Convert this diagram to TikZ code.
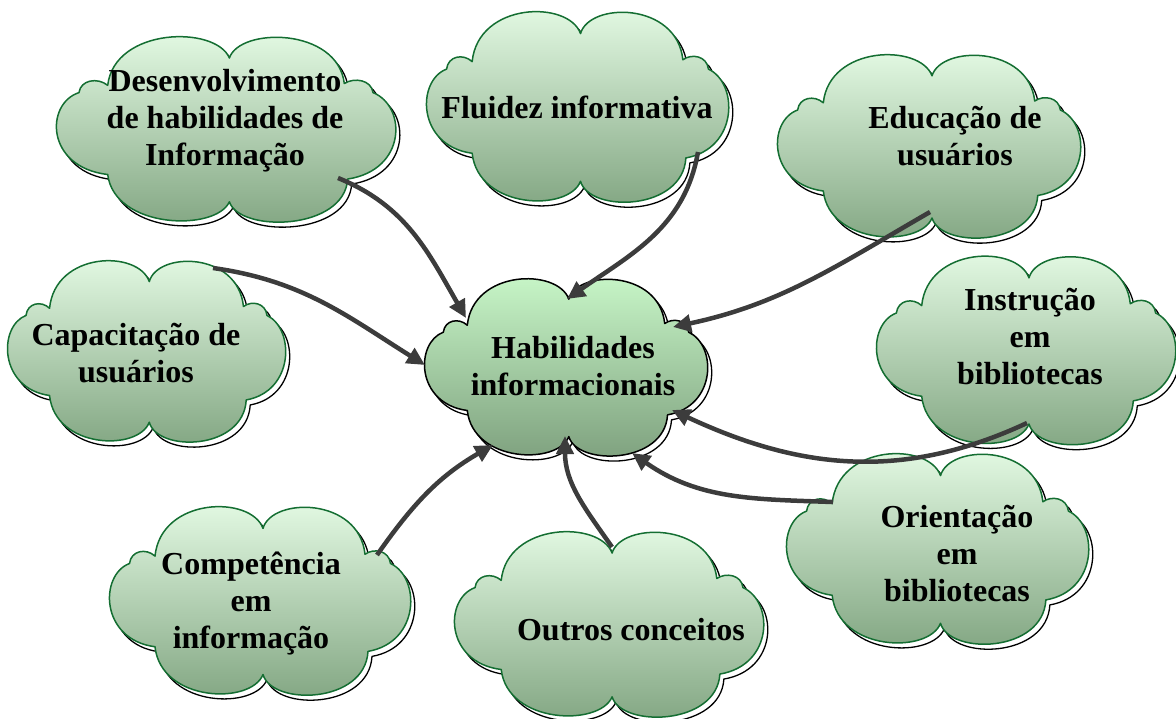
\documentclass[tikz,border=0pt]{standalone}
\usepackage{fontspec}
\setmainfont{Liberation Serif}
\usetikzlibrary{calc,arrows.meta}
\definecolor{cgreen}{RGB}{20,110,50}
\definecolor{ctop}{RGB}{230,252,230}
\definecolor{cmid}{RGB}{205,236,205}
\definecolor{cbot}{RGB}{128,164,128}
\definecolor{ctopz}{RGB}{202,249,202}
\definecolor{cmidz}{RGB}{178,224,178}
\definecolor{cbotz}{RGB}{124,158,124}
\definecolor{agray}{RGB}{60,60,60}
\newcommand{\cloudoutline}{(0.02,0.78)
 .. controls (0.08,1.12) and (0.66,1.12) .. (0.70,0.50)
 .. controls (0.76,0.57) and (0.86,0.54) .. (0.87,0.40)
 .. controls (1.07,0.25) and (1.07,-0.45) .. (0.72,-0.55)
 .. controls (0.70,-1.12) and (0.08,-1.14) .. (0.02,-0.80)
 .. controls (-0.06,-1.13) and (-0.66,-1.10) .. (-0.70,-0.50)
 .. controls (-1.07,-0.42) and (-1.07,0.28) .. (-0.87,0.40)
 .. controls (-0.86,0.54) and (-0.76,0.57) .. (-0.70,0.48)
 .. controls (-0.66,1.12) and (-0.06,1.14) .. (0.02,0.78) -- cycle}
% #1 style, #2 cx, #3 cy, #4 half width, #5 half height
\newcommand{\drawcloud}[5][cloudbox]{%
  \path[cloudshadow, shift={({#2+4},{#3-5})}, xscale=#4, yscale=#5] \cloudoutline;
  \path[#1, shift={(#2,#3)}, xscale=#4, yscale=#5] \cloudoutline;}
\begin{document}
\begin{tikzpicture}[x=1pt,y=1pt,
  cloudshadow/.style={draw=black, fill=white, line width=1.3pt, line join=round},
  cloudbox/.style={draw=cgreen, line width=1.5pt, line join=round,
    top color=ctop, middle color=cmid, bottom color=cbot},
  centercloud/.style={cloudbox, draw=black, top color=ctopz, middle color=cmidz, bottom color=cbotz},
  cloudnode/.style={draw=none, inner sep=0pt, outer sep=0pt},
  txt/.style={font=\bfseries\fontsize{32}{37}\selectfont, align=center, text=black, inner sep=0pt},
  conn/.style={draw=agray, line width=4.5pt, -{Triangle[length=18pt,width=17pt]}}]
\useasboundingbox (0,0) rectangle (1176,-718);

% cloud outlines
\drawcloud{226}{-129}{169}{91}
\drawcloud{577.5}{-106.5}{150.5}{93.5}
\drawcloud{929}{-146}{151}{90}
\drawcloud{146.5}{-351}{138.5}{89}
\drawcloud[centercloud]{566}{-367}{141}{87}
\drawcloud{1026}{-350}{149}{92.5}
\drawcloud{937.5}{-548.5}{150.5}{93.5}
\drawcloud{260}{-600.5}{150}{92.5}
\drawcloud{609}{-624}{154}{91}

% named cloud nodes
\node[cloudnode, minimum width=338pt, minimum height=182pt] (c1) at (226,-129) {};
\node[cloudnode, minimum width=301pt, minimum height=187pt] (c2) at (577.5,-106.5) {};
\node[cloudnode, minimum width=302pt, minimum height=180pt] (c3) at (929,-146) {};
\node[cloudnode, minimum width=277pt, minimum height=178pt] (c4) at (146.5,-351) {};
\node[cloudnode, minimum width=282pt, minimum height=174pt] (c0) at (566,-367) {};
\node[cloudnode, minimum width=298pt, minimum height=185pt] (c5) at (1026,-350) {};
\node[cloudnode, minimum width=301pt, minimum height=187pt] (c6) at (937.5,-548.5) {};
\node[cloudnode, minimum width=300pt, minimum height=185pt] (c7) at (260,-600.5) {};
\node[cloudnode, minimum width=308pt, minimum height=182pt] (c8) at (609,-624) {};

% texts
\node[txt] (t1) at (225,-121) {Desenvolvimento\\de habilidades de\\Informação};
\node[txt] (t2) at (577,-107) {Fluidez informativa};
\node[txt] (t3) at (955,-136) {Educação de\\usuários};
\node[txt] (t4) at (136,-353) {Capacitação de\\usuários};
\node[txt] (t0) at (573,-366) {Habilidades\\informacionais};
\node[txt] (t5) at (1030,-337) {Instrução\\em\\bibliotecas};
\node[txt] (t6) at (957,-553) {Orientação\\em\\bibliotecas};
\node[txt] (t7) at (251,-604) {Competência\\em\\informação};
\node[txt] (t8) at (631,-630) {Outros conceitos};

% connectors
\draw[conn] ($(c1.center)+(112,-49)$) to[out=-22,in=120] ($(c0.center)+(-100,49)$);
\draw[conn] ($(c2.center)+(120.5,-45.5)$) to[out=-100,in=35] ($(c0.center)+(1,68)$);
\draw[conn] ($(c3.center)+(1,-66)$) to[out=-150,in=12] ($(c0.center)+(107,40)$);
\draw[conn] ($(c4.center)+(66.5,83)$) to[out=-8,in=148] ($(c0.center)+(-141,2)$);
\draw[conn] ($(c5.center)+(1,-73)$) to[out=-155,in=-25] ($(c0.center)+(106,-43)$);
\draw[conn] ($(c6.center)+(-104.5,46.5)$) to[out=178,in=-35] ($(c0.center)+(66,-86)$);
\draw[conn] ($(c7.center)+(117,45.5)$) to[out=55,in=-150] ($(c0.center)+(-73,-78)$);
\draw[conn] ($(c8.center)+(3,77)$) to[out=125,in=-90] ($(c0.center)+(-1,-69)$);
\end{tikzpicture}
\end{document}
